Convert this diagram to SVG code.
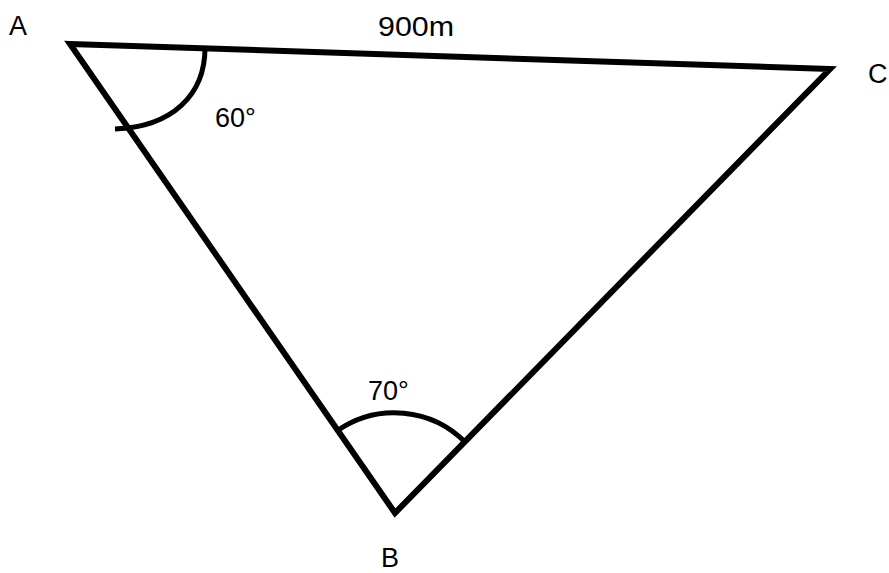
<svg xmlns="http://www.w3.org/2000/svg" width="889" height="573" viewBox="0 0 889 573">
<style>
.ln{fill:none;stroke:#000;stroke-width:6;stroke-linejoin:miter;stroke-linecap:round}
.arc{fill:none;stroke:#000;stroke-width:5;stroke-linecap:butt}
.t{font-family:"Liberation Sans",Arial,sans-serif;font-size:27px;fill:#000}
</style>
<rect width="889" height="573" fill="#fff"/>
<g id="triangle">
<polygon class="ln" points="70,44 830,69 395,513"/>
</g>
<g id="angles">
<path class="arc" d="M 205 48 C 205 95 172 127 115 129"/>
<path class="arc" d="M 337 431 A 100 100 0 0 1 466 443"/>
</g>
<g id="labels">
<text class="t" x="9" y="35">A</text>
<text class="t" x="868" y="83">C</text>
<text class="t" x="381" y="567">B</text>
<text class="t" x="378" y="36" textLength="76" lengthAdjust="spacingAndGlyphs">900m</text>
<text class="t" x="215" y="127">60°</text>
<text class="t" x="368" y="400">70°</text>
</g>
</svg>
